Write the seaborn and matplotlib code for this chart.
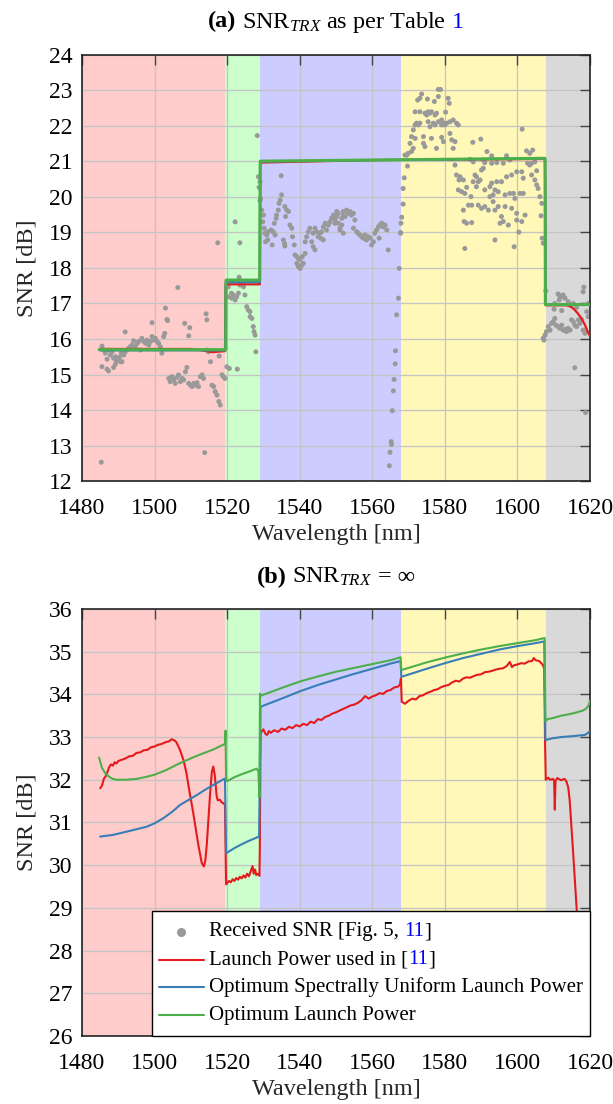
import matplotlib
matplotlib.use("Agg")
import numpy as np
import pandas as pd
import matplotlib.pyplot as plt
import seaborn as sns
from matplotlib.offsetbox import AnchoredOffsetbox, HPacker, VPacker, TextArea, DrawingArea
from matplotlib.lines import Line2D

###
### DATA
###

### spectral bands (edges in nm) and their shading
band_edges = [1480, 1519.5, 1529, 1568, 1607.8, 1620]
band_colors = ['#FFCCCC', '#CCFFCC', '#CCCCFF', '#FFF8B8', '#D9D9D9']

### received SNR, per band
rx_s = [1506.4, 1503.0, 1503.4, 1503.6, 1499.3, 1491.9, 1508.3, 1509.7, 1509.4, 1514.2, 1514.4,
        1485.5, 1486.0, 1486.4, 1486.9, 1487.3, 1487.8, 1488.3, 1488.7, 1489.2, 1489.5, 1489.9,
        1490.3, 1490.8, 1491.0, 1491.5, 1491.9, 1492.4, 1492.9, 1493.3, 1493.8, 1494.2, 1494.7,
        1495.2, 1495.6, 1496.1, 1496.5, 1497.0, 1497.5, 1497.9, 1498.4, 1498.8, 1499.3, 1499.7,
        1500.2, 1500.7, 1501.1, 1501.6, 1502.0, 1502.5, 1502.8,
        1485.5, 1486.9, 1487.3, 1488.7, 1489.2, 1490.6,
        1503.9, 1504.3, 1504.8, 1505.3, 1505.7, 1506.2, 1506.6, 1507.1, 1507.6, 1508.0, 1508.5,
        1508.9, 1509.4, 1509.9, 1510.3, 1510.8, 1511.2, 1511.7, 1512.1, 1512.6, 1513.1, 1513.5,
        1514.4, 1514.9, 1515.4, 1515.8, 1516.3, 1516.7, 1517.2, 1517.7, 1518.1, 1517.8, 1518.6,
        1519.0, 1513.8, 1485.3]
ry_s = [17.45, 16.87, 16.55, 16.52, 16.46, 16.20, 16.44, 16.32, 16.09, 16.71, 16.54,
        15.80, 15.69, 15.60, 15.43, 15.69, 15.55, 15.64, 15.46, 15.50, 15.39, 15.43,
        15.48, 15.60, 15.36, 15.55, 15.64, 15.69, 15.74, 15.78, 15.83, 15.95, 15.78,
        15.88, 15.93, 15.69, 16.02, 15.93, 15.88, 15.97, 15.83, 15.93, 16.07, 15.97,
        16.02, 15.93, 15.88, 15.78, 15.60, 16.07, 16.16,
        15.22, 15.15, 15.10, 15.20, 15.29, 15.36,
        14.89, 14.80, 14.94, 14.85, 14.75, 14.92, 14.99, 14.80, 14.89, 14.85, 15.08,
        15.20, 14.75, 14.70, 14.66, 14.75, 14.70, 14.77, 14.66, 14.94, 14.99, 14.89,
        15.69, 15.64, 15.36, 14.70, 14.66, 14.52, 14.42, 14.24, 14.14, 15.52, 14.99,
        14.94, 12.80, 12.53]

rx_sc = [1519.4, 1519.9, 1520.6, 1522.8, 1517.4, 1522.2, 1523.5, 1528.3,
         1520.3, 1521.2, 1521.7, 1522.2, 1522.6, 1523.5, 1524.0, 1524.5, 1524.9, 1525.4,
         1525.8, 1526.3, 1526.8, 1527.2, 1527.4, 1527.7, 1527.9, 1520.3, 1521.2, 1523.3,
         1523.1, 1526.3, 1528.6, 1528.8, 1529.05, 1529.05, 1529.2]
ry_sc = [14.89, 15.22, 15.17, 15.15, 18.71, 19.30, 18.71, 21.73,
         17.19, 17.15, 17.24, 17.10, 17.19, 17.52, 17.57, 17.47, 17.24, 16.91,
         16.82, 16.63, 16.58, 16.35, 16.21, 16.11, 15.64, 17.47, 17.29, 17.74,
         17.29, 16.77, 20.57, 20.27, 20.43, 19.90, 19.96]

rx_c = [1529.5, 1530.0, 1529.8, 1530.2, 1530.4, 1530.9, 1531.3, 1530.6, 1531.2, 1532.1, 1532.7,
        1532.4, 1533.2, 1534.9, 1535.0, 1534.6, 1534.3, 1534.1, 1533.6, 1533.5, 1533.0, 1535.9,
        1536.4, 1536.9, 1536.1, 1537.3, 1537.8, 1535.5, 1535.8, 1535.9, 1538.0, 1538.5, 1538.7,
        1539.2, 1539.6, 1540.1, 1539.2, 1539.6, 1540.5, 1541.0, 1540.1, 1541.5, 1540.7, 1541.5,
        1541.9, 1542.4, 1542.8, 1543.3, 1543.7, 1544.2, 1543.7, 1544.2, 1544.7, 1545.1, 1545.6,
        1545.9, 1546.0, 1546.5, 1546.5, 1547.0, 1547.4, 1547.9, 1548.3, 1548.8, 1549.3, 1549.7,
        1550.2, 1550.6, 1551.1, 1551.6, 1552.0, 1552.0,
        1549.3, 1549.7, 1550.2, 1550.6, 1551.1, 1551.6, 1552.0, 1552.5, 1552.9, 1553.4, 1553.9,
        1554.3, 1554.8, 1555.2, 1554.8, 1555.7, 1556.1, 1556.6, 1557.1, 1557.5, 1558.0, 1558.4,
        1558.9, 1559.4, 1559.8, 1560.3, 1560.7, 1561.2, 1561.7, 1562.1, 1562.6, 1563.0, 1563.5,
        1564.0, 1561.9, 1564.4,
        1567.4, 1567.2, 1566.7, 1566.4, 1566.3, 1566.0, 1565.8, 1565.5, 1565.2, 1565.3, 1564.9,
        1564.7, 1567.8, 1567.9, 1567.8]
ry_c = [19.63, 19.49, 19.30, 19.12, 18.98, 18.93, 19.02, 18.74, 18.79, 19.07, 19.02,
        18.65, 18.93, 20.60, 20.06, 19.91, 19.82, 19.63, 19.49, 19.40, 19.26, 19.73,
        19.63, 19.59, 19.45, 19.21, 19.12, 18.79, 18.69, 18.62, 18.88, 18.65, 18.37,
        18.32, 18.27, 18.24, 18.13, 18.04, 18.08, 18.13, 17.99, 18.41, 18.32, 18.74,
        18.88, 19.02, 19.12, 18.74, 18.60, 18.51, 18.98, 19.12, 19.02, 18.88, 18.98,
        18.83, 19.02, 19.16, 18.79, 19.26, 19.07, 19.21, 19.30, 19.40, 19.49, 19.26,
        19.45, 19.54, 19.12, 19.40, 19.49, 18.98,
        19.45, 19.35, 19.59, 19.26, 19.07, 19.21, 19.59, 19.45, 19.63, 19.54, 19.59,
        19.49, 19.54, 19.35, 19.12, 19.02, 18.98, 18.93, 18.88, 18.84, 18.93, 18.79,
        18.88, 18.84, 18.65, 18.74, 18.98, 19.07, 19.16, 19.21, 19.26, 19.16, 19.21,
        19.07, 18.84, 18.51,
        17.99, 17.15, 16.68, 15.67, 15.30, 14.86, 14.54, 13.98, 13.11, 13.03, 12.81,
        12.43, 18.98, 19.26, 19.00]

rx_l = [1578.2, 1578.8, 1573.6, 1573.1, 1572.5, 1575.2, 1577.1, 1578.2, 1580.9, 1581.2,
        1571.8, 1573.1, 1574.5, 1575.0, 1575.4, 1575.9, 1576.3, 1577.3, 1577.7, 1580.2,
        1572.2, 1571.8, 1572.7, 1573.1, 1575.4, 1575.9, 1576.8, 1577.3, 1578.2, 1579.1,
        1579.1, 1579.6, 1580.0, 1580.5, 1581.4, 1582.3, 1583.2, 1583.7,
        1571.3, 1570.8, 1571.8, 1574.1, 1576.3, 1579.1, 1581.4, 1581.9, 1582.8,
        1570.4, 1571.3, 1574.1, 1574.5, 1577.7, 1579.6, 1582.3, 1570.8, 1569.9, 1569.5, 1569.0,
        1587.7, 1589.9, 1601.3, 1591.6, 1592.9, 1602.5, 1603.4, 1604.2,
        1569.7, 1586.9, 1587.8, 1590.6, 1591.0, 1592.9, 1594.3, 1596.1, 1597.0, 1597.9,
        1602.8, 1603.4, 1603.9, 1604.8, 1590.6, 1590.1, 1605.3,
        1568.8, 1568.5, 1568.5, 1568.1,
        1582.8, 1583.2, 1584.2, 1583.9, 1585.1, 1583.7, 1584.6, 1586.0, 1585.5, 1587.2, 1586.5,
        1587.4, 1588.3, 1588.7, 1587.8, 1589.2, 1589.7, 1588.7, 1591.0, 1592.4, 1592.9, 1594.3,
        1595.6, 1597.0, 1598.4, 1599.8, 1601.2, 1601.6, 1603.9, 1604.8, 1605.3, 1605.7, 1606.2,
        1606.7, 1593.8, 1592.4, 1593.3, 1594.7, 1596.6, 1597.9, 1598.9, 1600.7, 1601.6, 1599.3,
        1593.3, 1589.2, 1590.1, 1591.0, 1592.0, 1593.8, 1594.7, 1596.6, 1598.4, 1595.6, 1596.1,
        1595.2, 1597.5, 1599.8, 1599.8, 1601.2, 1602.1, 1585.3, 1586.0, 1587.4, 1585.1, 1585.5,
        1593.8, 1599.1, 1600.4, 1606.5, 1606.8, 1607.1, 1607.8]
ry_l = [23.03, 23.03, 22.90, 22.78, 22.73, 22.76, 22.69, 22.83, 22.78, 22.64,
        22.40, 22.40, 22.36, 22.31, 22.40, 22.36, 22.40, 22.31, 22.36, 22.39,
        22.08, 22.03, 22.03, 22.08, 22.12, 21.98, 22.08, 22.03, 22.12, 22.17,
        22.03, 22.08, 22.03, 22.08, 22.12, 22.17, 22.08, 22.03,
        21.89, 21.70, 21.65, 21.70, 21.65, 21.68, 21.79, 21.61, 21.56,
        21.51, 21.37, 21.51, 21.42, 21.37, 21.56, 21.37, 21.28, 21.23, 21.18, 21.18,
        21.54, 21.63, 21.91, 21.28, 21.16, 21.30, 21.23, 21.32,
        20.87, 21.06, 20.99, 21.04, 20.97, 20.95, 20.97, 20.95, 21.16, 21.04,
        20.95, 20.90, 20.95, 20.99, 20.81, 20.76, 20.74,
        20.54, 20.24, 19.80, 19.43,
        20.90, 20.62, 20.57, 20.48, 20.48, 20.20, 20.15, 20.27, 20.10, 20.01, 19.77,
        19.77, 20.62, 20.57, 20.43, 20.43, 20.48, 20.29, 20.20, 20.29, 20.39, 20.43,
        20.43, 20.57, 20.62, 20.71, 20.71, 20.53, 20.62, 20.48, 20.34, 20.24, 20.01,
        19.82, 20.20, 20.01, 20.06, 20.15, 20.06, 20.10, 20.10, 20.10, 20.10, 19.96,
        19.87, 19.77, 19.68, 19.73, 19.63, 19.63, 19.73, 19.73, 19.68, 19.45, 19.31,
        19.26, 19.21, 19.54, 19.35, 19.31, 19.49, 19.31, 19.26, 19.28, 19.63, 18.55,
        18.79, 18.60, 19.01, 19.47, 18.84, 18.70, 17.36]

rx_u = [1611.2, 1611.7, 1612.2, 1612.6, 1613.1, 1611.5, 1610.3, 1610.1, 1612.2, 1614.0,
        1614.9, 1615.4, 1616.3, 1618.3, 1618.1, 1619.5, 1619.1, 1619.5,
        1607.1, 1607.3, 1607.6, 1608.0, 1608.5, 1609.0, 1609.4, 1609.9, 1610.3, 1610.6,
        1611.2, 1611.7, 1612.2, 1612.6, 1613.1, 1613.5, 1614.0, 1614.5, 1614.9, 1615.4,
        1615.8, 1616.3, 1616.8, 1617.2, 1617.7, 1618.1, 1618.6, 1615.8, 1618.8]
ry_u = [17.27, 17.21, 17.19, 17.24, 17.15, 17.10, 17.00, 16.84, 16.80, 17.05,
        16.96, 17.00, 16.89, 17.46, 17.33, 17.00, 16.77, 16.63,
        16.02, 15.97, 16.11, 16.21, 16.35, 16.25, 16.44, 16.49, 16.58, 16.39,
        16.35, 16.30, 16.39, 16.25, 16.27, 16.21, 16.30, 16.25, 16.54, 16.49,
        16.39, 16.35, 16.54, 16.44, 16.54, 16.25, 16.16, 15.19, 13.93]

### (a) model with SNR_TRX from table
a_red_x = [1485, 1510, 1513, 1516, 1519.4, 1519.6, 1529, 1529.1, 1560, 1607.6, 1607.8, 1613.5,
           1614.5, 1615.5, 1616.5, 1617.5, 1618.5, 1619.3, 1620]
a_red_y = [15.72, 15.72, 15.68, 15.63, 15.66, 17.54, 17.54, 20.97, 21.04, 21.07, 16.95, 16.95,
           16.92, 16.85, 16.74, 16.60, 16.42, 16.22, 16.08]
a_blue_x = [1485, 1519.5, 1519.6, 1529, 1529.1, 1607.6, 1607.8, 1620]
a_blue_y = [15.68, 15.68, 17.60, 17.60, 21.00, 21.09, 16.97, 16.97]
a_green_x = [1484.7, 1519.6, 1519.7, 1529.0, 1529.1, 1607.6, 1607.7, 1620]
a_green_y = [15.70, 15.70, 17.66, 17.66, 21.01, 21.09, 16.97, 16.97]

### (b) model with infinite SNR_TRX
b_red_x = [1485, 1485.5, 1486, 1486.5, 1487, 1487.5, 1488, 1488.5, 1489, 1489.5, 1490, 1491,
           1492, 1493, 1494, 1495, 1496, 1497, 1498, 1499, 1500, 1501, 1502, 1503, 1504, 1504.7,
           1505.5, 1506, 1507, 1508, 1508.8, 1509.5, 1510.7, 1512, 1513, 1513.6, 1514.0, 1514.4,
           1515.3, 1515.8, 1516.2, 1516.6, 1517.1, 1517.4, 1518, 1518.5, 1519, 1519.4, 1519.6,
           1519.7,
           1520, 1520.5, 1521, 1521.5, 1522, 1522.5, 1523, 1523.5, 1524, 1524.5, 1525, 1525.5,
           1526, 1526.5, 1527, 1527.3, 1527.7, 1528, 1528.5, 1528.9, 1529.0, 1529.2,
           1529.5, 1530, 1530.5, 1531, 1531.5, 1532, 1533, 1534, 1535, 1536, 1537, 1538, 1539,
           1540, 1541, 1542, 1543, 1544, 1545, 1546, 1547, 1548, 1549, 1550, 1551, 1552, 1553,
           1554, 1555, 1556, 1557, 1558, 1559, 1560, 1561, 1562, 1563, 1564, 1565, 1566, 1567,
           1567.6, 1567.9, 1568.1,
           1569, 1570, 1571, 1572, 1573, 1574, 1575, 1576, 1577, 1578, 1579, 1580, 1581, 1582,
           1583, 1584, 1585, 1586, 1587, 1588, 1589, 1590, 1591, 1592, 1593, 1594, 1595, 1596,
           1597, 1597.9, 1598.5, 1599, 1600, 1601, 1602, 1603, 1604, 1604.5, 1605, 1606, 1607,
           1607.4, 1607.6, 1607.8,
           1608.5, 1609, 1609.8, 1610.1, 1610.3, 1610.5, 1611, 1612, 1613, 1613.5, 1614, 1614.4,
           1615.3, 1616.4, 1617.4, 1618.1, 1619]
b_red_y = [31.80, 31.86, 32.02, 32.08, 32.18, 32.30, 32.36, 32.33, 32.41, 32.38, 32.44, 32.47,
           32.50, 32.55, 32.56, 32.63, 32.64, 32.69, 32.70, 32.76, 32.78, 32.82, 32.84, 32.88,
           32.90, 32.95, 32.92, 32.88, 32.70, 32.45, 32.15, 31.78, 31.20, 30.50, 30.05, 29.97,
           30.12, 30.50, 31.68, 32.20, 32.31, 32.10, 31.62, 31.52, 31.53, 31.47, 31.45, 31.41,
           30.20, 29.55,
           29.58, 29.63, 29.60, 29.67, 29.63, 29.70, 29.66, 29.73, 29.69, 29.76, 29.71, 29.80,
           29.74, 29.86, 29.98, 29.80, 29.90, 29.77, 29.80, 29.75, 30.40, 33.12,
           33.13, 33.18, 33.08, 33.05, 33.14, 33.10, 33.16, 33.12, 33.20, 33.17, 33.24, 33.21,
           33.28, 33.25, 33.31, 33.28, 33.36, 33.33, 33.42, 33.40, 33.47, 33.50, 33.55, 33.58,
           33.62, 33.66, 33.70, 33.74, 33.76, 33.80, 33.86, 33.96, 33.90, 33.95, 33.98, 34.03,
           34.01, 34.08, 34.10, 34.16, 34.18, 34.22, 34.38, 33.83,
           33.78, 33.85, 33.90, 33.88, 33.96, 33.98, 34.03, 34.06, 34.10, 34.12, 34.17, 34.20,
           34.22, 34.28, 34.32, 34.30, 34.37, 34.40, 34.39, 34.43, 34.46, 34.47, 34.52, 34.53,
           34.55, 34.58, 34.60, 34.61, 34.66, 34.76, 34.64, 34.68, 34.70, 34.73, 34.72, 34.77,
           34.78, 34.85, 34.80, 34.78, 34.69, 34.60, 32.93, 32.00,
           32.05, 32.00, 32.02, 31.98, 31.30, 31.98, 32.04, 31.99, 32.02, 31.96, 31.82, 31.52,
           30.36, 28.87, 27.30, 26.00, 24.60]
b_blue_x = [1485, 1488.6, 1493, 1497.8, 1500, 1502.4, 1505, 1507, 1510, 1511.6, 1514, 1516.2,
            1519.4, 1519.7, 1522, 1524, 1526, 1528.8, 1529.2, 1535, 1540, 1545, 1550, 1553.8,
            1560, 1565, 1567.8, 1568.0, 1575, 1580, 1585, 1590, 1595, 1600, 1605, 1607.4,
            1607.7, 1609.5, 1612, 1615, 1618.6, 1619.5, 1620]
b_blue_y = [30.67, 30.71, 30.80, 30.90, 30.98, 31.10, 31.26, 31.41, 31.56, 31.64, 31.77, 31.88,
            32.03, 30.28, 30.40, 30.49, 30.57, 30.67, 33.71, 33.90, 34.07, 34.22, 34.35, 34.45,
            34.60, 34.72, 34.78, 34.41, 34.60, 34.73, 34.85, 34.95, 35.05, 35.13, 35.20, 35.24,
            32.93, 32.97, 33.00, 33.02, 33.05, 33.10, 33.15]
b_green_x = [1484.7, 1485.5, 1486.5, 1487.5, 1488.5, 1489.6, 1492, 1495, 1497.8, 1500, 1503,
             1507, 1511.6, 1516.2, 1519.4, 1519.55, 1519.7, 1520, 1522, 1524, 1526, 1528.1,
             1528.6, 1528.9, 1529.05, 1529.3, 1535, 1540, 1545, 1550, 1555, 1560, 1565, 1567.8,
             1568.0, 1570, 1575, 1580, 1585, 1590, 1595, 1600, 1605, 1607.5, 1607.7, 1608.3,
             1610, 1612, 1614, 1616, 1618, 1619, 1619.6, 1620]
b_green_y = [32.52, 32.28, 32.14, 32.07, 32.02, 32.00, 32.00, 32.02, 32.07, 32.12, 32.22,
             32.39, 32.56, 32.71, 32.84, 33.15, 32.00, 31.97, 32.06, 32.13, 32.19, 32.26,
             32.20, 31.60, 34.02, 33.97, 34.15, 34.30, 34.42, 34.53, 34.62, 34.71, 34.80, 34.87,
             34.57, 34.62, 34.75, 34.86, 34.96, 35.05, 35.13, 35.20, 35.27, 35.32, 33.36, 33.42,
             33.45, 33.50, 33.53, 33.57, 33.62, 33.67, 33.74, 33.85]

###
### STYLE
###

sns.set_theme(style="whitegrid")
plt.rcParams['font.family'] = ['Liberation Serif', 'DejaVu Serif']
plt.rcParams['mathtext.fontset'] = 'custom'
plt.rcParams['mathtext.rm'] = 'Liberation Serif'
plt.rcParams['mathtext.it'] = 'Liberation Serif:italic'
plt.rcParams['mathtext.bf'] = 'Liberation Serif:bold'

RED, BLUE, GREEN, GREY = '#E41A1C', '#377EB8', '#4DAF4A', '#999999'
FS = 17
LFS = 17.5

fig = plt.figure(figsize=(6.13, 11.04), dpi=100)
ax1 = fig.add_axes([0.1338, 0.5643, 0.8287, 0.3859])
ax2 = fig.add_axes([0.1338, 0.0616, 0.8287, 0.3868])


def style_axes(ax, ylo, yhi):
    for lo, hi, c in zip(band_edges[:-1], band_edges[1:], band_colors):
        ax.axvspan(lo, hi, color=c, lw=0, zorder=0)
    ax.set_axisbelow(True)
    ax.set_facecolor('white')
    ax.grid(True, color='#C4C4C4', lw=0.9)
    ax.set_xlim(1480, 1620)
    ax.set_ylim(ylo, yhi)
    ax.set_xticks(range(1480, 1621, 20))
    ax.set_yticks(range(ylo, yhi + 1))
    ax.tick_params(direction='in', length=7, width=1, color='#444444', top=True, right=True,
                   labelsize=FS, labelcolor='black')
    ax.tick_params(axis='x', pad=12)
    ax.tick_params(axis='y', pad=7)
    for s in ax.spines.values():
        s.set_color('#222222')
        s.set_linewidth(1.2)


def add_title(ax, parts):
    kids = [TextArea(t, textprops=dict(color=c, fontsize=LFS, fontweight=w)) for t, c, w in parts]
    pack = HPacker(children=kids, align='baseline', pad=0, sep=4)
    box = AnchoredOffsetbox(loc='lower center', child=pack, pad=0, borderpad=0, frameon=False,
                            bbox_to_anchor=(0.5, 1.048), bbox_transform=ax.transAxes)
    ax.add_artist(box)


def rich_label(parts, sep=0):
    kids = [TextArea(t, textprops=dict(color=c, fontsize=15)) for t, c in parts]
    return HPacker(children=kids, align='baseline', pad=0, sep=sep)


def handle(kind, color):
    da = DrawingArea(32, 20, 0, 0)
    if kind == 'marker':
        da.add_artist(Line2D([16], [10], marker='o', ms=6.5, color=color, mec='none', ls='none'))
    else:
        da.add_artist(Line2D([0, 32], [10, 10], color=color, lw=1.5))
    return da


###
### (a)
###

style_axes(ax1, 12, 24)
received = pd.DataFrame({'x': rx_s + rx_sc + rx_c + rx_l + rx_u,
                         'y': ry_s + ry_sc + ry_c + ry_l + ry_u})
sns.scatterplot(data=received, x='x', y='y', ax=ax1, color=GREY, s=13, edgecolor='none',
                zorder=2, legend=False)
sns.lineplot(x=a_red_x, y=a_red_y, ax=ax1, color=RED, lw=1.6, estimator=None, sort=False, zorder=3)
sns.lineplot(x=a_blue_x, y=a_blue_y, ax=ax1, color=BLUE, lw=1.6, estimator=None, sort=False, zorder=3)
sns.lineplot(x=a_green_x, y=a_green_y, ax=ax1, color=GREEN, lw=2.2, estimator=None, sort=False, zorder=3)
ax1.set_xlabel('Wavelength [nm]', fontsize=LFS, labelpad=4)
ax1.set_ylabel('SNR [dB]', fontsize=LFS, labelpad=8)
add_title(ax1, [('(a)', 'black', 'bold'), ('SNR$_{TRX}$ as per Table', 'black', 'normal'),
                ('1', 'blue', 'normal')])

###
### (b)
###

style_axes(ax2, 26, 36)
sns.lineplot(x=b_red_x, y=b_red_y, ax=ax2, color=RED, lw=1.5, estimator=None, sort=False, zorder=3)
sns.lineplot(x=b_blue_x, y=b_blue_y, ax=ax2, color=BLUE, lw=1.5, estimator=None, sort=False, zorder=3)
sns.lineplot(x=b_green_x, y=b_green_y, ax=ax2, color=GREEN, lw=1.5, estimator=None, sort=False, zorder=3)
ax2.set_xlabel('Wavelength [nm]', fontsize=LFS, labelpad=4)
ax2.set_ylabel('SNR [dB]', fontsize=LFS, labelpad=8)
add_title(ax2, [('(b)', 'black', 'bold'), ('SNR$_{TRX}$', 'black', 'normal'),
                ('= \u221e', 'black', 'normal')])

### legend with coloured citations
rows = [
    HPacker(children=[handle('marker', GREY),
                      HPacker(children=[rich_label([('Received SNR [Fig. 5,', 'black')]),
                                        rich_label([('11', 'blue'), (']', 'black')])],
                              align='baseline', pad=0, sep=4)],
            align='center', pad=0, sep=4),
    HPacker(children=[handle('line', RED),
                      rich_label([('Launch Power used in [', 'black'), ('11', 'blue'), (']', 'black')])],
            align='center', pad=0, sep=4),
    HPacker(children=[handle('line', BLUE),
                      rich_label([('Optimum Spectrally Uniform Launch Power', 'black')])],
            align='center', pad=0, sep=4),
    HPacker(children=[handle('line', GREEN), rich_label([('Optimum Launch Power', 'black')])],
            align='center', pad=0, sep=4),
]
legend_box = AnchoredOffsetbox(loc='lower right', child=VPacker(children=rows, align='left', pad=0, sep=0),
                               pad=0.5, borderpad=0, frameon=True, prop=dict(size=10),
                               bbox_to_anchor=(1, 0), bbox_transform=ax2.transAxes)
legend_box.patch.set_edgecolor('black')
legend_box.patch.set_linewidth(1.0)
legend_box.patch.set_boxstyle('square', pad=0)
legend_box.set_zorder(5)
ax2.add_artist(legend_box)

fig.savefig('out.png', dpi=100)
